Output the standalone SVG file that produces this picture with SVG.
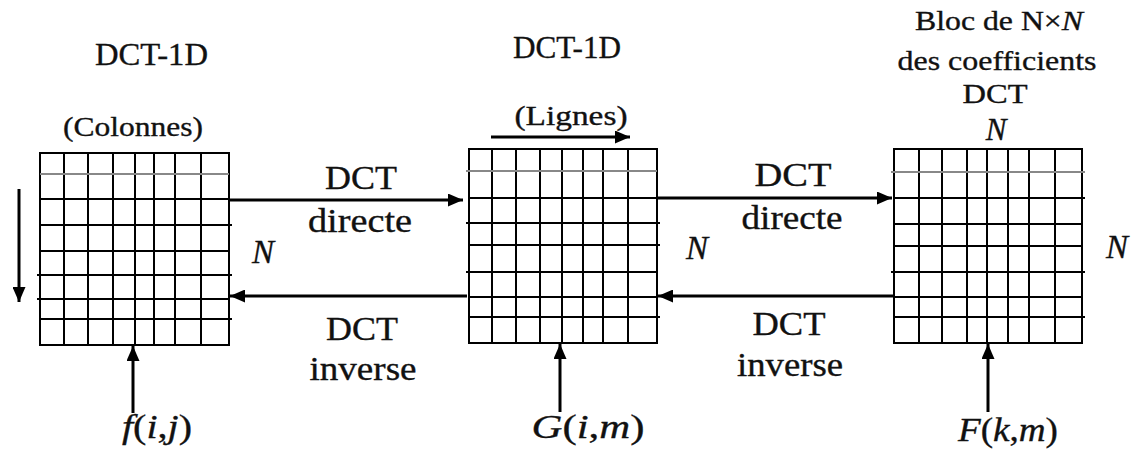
<svg xmlns="http://www.w3.org/2000/svg" width="1141" height="457" viewBox="0 0 1141 457">
  <style>
    .lbl { font-family: "Liberation Serif", "Times New Roman", serif; fill: #111; stroke: #111; stroke-width: 0.35; text-anchor: middle; }
    .it { font-style: italic; }
    .frame { fill: none; stroke: #000; stroke-width: 2; }
    .grid { fill: none; stroke: #000; stroke-width: 2; }
    .first { fill: none; stroke: #888; stroke-width: 2; }
    .arrow { fill: none; stroke: #000; stroke-width: 3; marker-end: url(#head); }
  </style>
  <defs>
    <marker id="head" markerUnits="userSpaceOnUse" markerWidth="15" markerHeight="13" refX="15" refY="6.5" orient="auto">
      <path d="M0,0 L15,6.5 L0,13 z" fill="#000"/>
    </marker>
  </defs>
  <rect width="1141" height="457" fill="#fff"/>

  <!-- spatial block f(i,j) -->
  <g id="block-spatial">
    <rect class="frame" x="40" y="153" width="189" height="192"/>
    <path class="grid" d="M64,153V345 M88,153V345 M113,153V345 M135,153V345 M154,153V345 M175,153V345 M201,153V345
      M40,199H229 M40,225H232 M40,251H229 M37,275H232 M37,299H229 M40,319H232"/>
    <path class="first" d="M40,174H229"/>
    <text class="lbl" x="151.5" y="65" font-size="31" textLength="113" lengthAdjust="spacingAndGlyphs">DCT-1D</text>
    <text class="lbl" x="133" y="136" font-size="28" textLength="140" lengthAdjust="spacingAndGlyphs">(Colonnes)</text>
    <text class="lbl" x="157" y="438" font-size="34" textLength="70" lengthAdjust="spacingAndGlyphs"><tspan class="it">f</tspan>(<tspan class="it">i</tspan>,<tspan class="it">j</tspan>)</text>
  </g>

  <!-- intermediate block G(i,m) -->
  <g id="block-intermediate">
    <rect class="frame" x="469" y="149" width="188" height="194"/>
    <path class="grid" d="M492,149V343 M516,149V343 M540,149V343 M562,149V343 M583,149V343 M603,149V343 M628,149V343
      M469,198H657 M466,223H660 M469,245H660 M466,272H657 M469,297H657 M469,317H660"/>
    <path class="first" d="M466,171H657"/>
    <text class="lbl" x="567" y="58" font-size="31" textLength="108" lengthAdjust="spacingAndGlyphs">DCT-1D</text>
    <text class="lbl" x="571" y="125" font-size="28" textLength="113" lengthAdjust="spacingAndGlyphs">(Lignes)</text>
    <text class="lbl" x="588" y="438" font-size="34" textLength="113" lengthAdjust="spacingAndGlyphs"><tspan class="it">G</tspan>(<tspan class="it">i</tspan>,<tspan class="it">m</tspan>)</text>
  </g>

  <!-- coefficient block F(k,m) -->
  <g id="block-coefficients">
    <rect class="frame" x="894" y="149" width="188" height="194"/>
    <path class="grid" d="M919,149V343 M942,149V343 M967,149V343 M987,149V343 M1008,149V343 M1029,149V343 M1055,149V343
      M894,198H1085 M894,224H1082 M894,246H1082 M891,272H1085 M894,297H1082 M894,317H1085"/>
    <path class="first" d="M891,172H1085"/>
    <text class="lbl" x="999" y="30" font-size="27" textLength="168" lengthAdjust="spacingAndGlyphs">Bloc de N×<tspan class="it">N</tspan></text>
    <text class="lbl" x="997" y="70" font-size="28" textLength="199" lengthAdjust="spacingAndGlyphs">des coefficients</text>
    <text class="lbl" x="995" y="103" font-size="28" textLength="65" lengthAdjust="spacingAndGlyphs">DCT</text>
    <text class="lbl it" x="996" y="140" font-size="31">N</text>
    <text class="lbl it" x="1117" y="258" font-size="33">N</text>
    <text class="lbl" x="1008" y="441" font-size="34" textLength="100" lengthAdjust="spacingAndGlyphs"><tspan class="it">F</tspan>(<tspan class="it">k</tspan>,<tspan class="it">m</tspan>)</text>
  </g>

  <!-- transform labels -->
  <g id="labels">
    <text class="lbl" x="361" y="189" font-size="33" textLength="72" lengthAdjust="spacingAndGlyphs">DCT</text>
    <text class="lbl" x="360" y="232" font-size="33" textLength="104" lengthAdjust="spacingAndGlyphs">directe</text>
    <text class="lbl it" x="263" y="263" font-size="33">N</text>
    <text class="lbl" x="362" y="340" font-size="33" textLength="72" lengthAdjust="spacingAndGlyphs">DCT</text>
    <text class="lbl" x="363" y="380" font-size="33" textLength="107" lengthAdjust="spacingAndGlyphs">inverse</text>

    <text class="lbl" x="793" y="186" font-size="33" textLength="77" lengthAdjust="spacingAndGlyphs">DCT</text>
    <text class="lbl" x="792" y="229" font-size="33" textLength="101" lengthAdjust="spacingAndGlyphs">directe</text>
    <text class="lbl it" x="697" y="259" font-size="33">N</text>
    <text class="lbl" x="789" y="335" font-size="33" textLength="73" lengthAdjust="spacingAndGlyphs">DCT</text>
    <text class="lbl" x="790" y="376" font-size="33" textLength="106" lengthAdjust="spacingAndGlyphs">inverse</text>
  </g>

  <!-- connectors -->
  <g id="connectors">
    <path class="arrow" d="M230,200H463"/>
    <path class="arrow" d="M467,296H230"/>
    <path class="arrow" d="M657,198H892"/>
    <path class="arrow" d="M894,296H658"/>
    <path class="arrow" d="M19,189V302"/>
    <path class="arrow" d="M491,137H630"/>
    <path class="arrow" d="M133,413V346"/>
    <path class="arrow" d="M560,412V344"/>
    <path class="arrow" d="M988,412V344"/>
  </g>
</svg>
